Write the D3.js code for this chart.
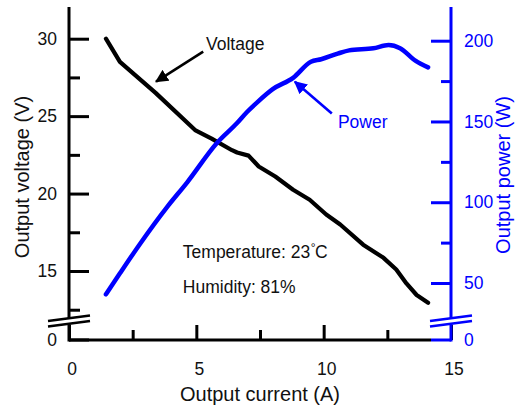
<!DOCTYPE html>
<html>
<head>
<meta charset="utf-8">
<script src="https://cdn.jsdelivr.net/npm/d3@7"></script>
<style>
  body { margin: 0; background: #fff; }
  svg { display: block; font-family: "Liberation Sans", Arial, sans-serif; }
</style>
</head>
<body>
<svg id="chart" width="516" height="407"></svg>
<script>
// values
const voltCurrent = [1.45, 2.0, 3.4, 4.95, 5.6, 6.4, 6.6, 7.05, 7.45, 8.1, 8.8, 9.45, 10.1, 10.65, 11.55, 12.35, 12.85, 13.25, 13.65, 14.1];
const voltage = [30.0, 28.5, 26.5, 24.1, 23.55, 22.8, 22.65, 22.45, 21.75, 21.1, 20.25, 19.6, 18.65, 18.0, 16.7, 15.85, 15.1, 14.2, 13.45, 12.95];

const powCurrent = [1.45, 2.0, 2.8, 3.85, 4.65, 5.8, 6.6, 7.0, 7.4, 8.0, 8.8, 9.5, 9.9, 10.55, 11.0, 11.95, 12.55, 13.0, 13.6, 14.1];
const power = [43, 56, 74.5, 97, 112.5, 136.5, 149, 156, 162, 170, 177, 187, 188.5, 192, 194, 195.3, 197.3, 195.3, 187.6, 183.5];

const xTicks = [0, 5, 10, 15];
const xMinor = [2.5, 7.5, 12.5];
const vTicks = [15, 20, 25, 30];
const vMinor = [12.5, 17.5, 22.5, 27.5];
const pTicks = [50, 100, 150, 200];
const pMinor = [75, 125, 175];

const BLUE = "#0000ff";

const svg = d3.select("#chart");
const m = { left: 69, right: 451, bottom: 340, top: 7 };

const x = d3.scaleLinear().domain([0, 15]).range([m.left, m.right]);
const yV = d3.scaleLinear().domain([15, 30]).range([271, 38.7]);
const yP = d3.scaleLinear().domain([50, 200]).range([283, 40.7]);

const tickFont = "17.5px";

// ---- curves
const voltLine = d3.line().x((d, i) => x(voltCurrent[i])).y((d) => yV(d));
const powLine = d3.line().x((d, i) => x(powCurrent[i])).y((d) => yP(d)).curve(d3.curveMonotoneX);

svg.append("path")
  .attr("d", voltLine(voltage))
  .attr("fill", "none")
  .attr("stroke", "#000")
  .attr("stroke-width", 4.2)
  .attr("stroke-linejoin", "round")
  .attr("stroke-linecap", "round");

svg.append("path")
  .attr("d", powLine(power))
  .attr("fill", "none")
  .attr("stroke", BLUE)
  .attr("stroke-width", 4.5)
  .attr("stroke-linejoin", "round")
  .attr("stroke-linecap", "round");

// ---- x axis
const xAxis = svg.append("g")
  .attr("transform", `translate(0,${m.bottom})`)
  .call(d3.axisBottom(x).tickValues(xTicks).tickSizeInner(-15).tickSizeOuter(0).tickPadding(23));
xAxis.select(".domain").remove();
xAxis.selectAll(".tick line").attr("stroke", "#000").attr("stroke-width", 3);
xAxis.selectAll(".tick text").attr("font-size", tickFont).attr("fill", "#111").attr("dx", 2.5);

const xAxisMinor = svg.append("g")
  .attr("transform", `translate(0,${m.bottom})`)
  .call(d3.axisBottom(x).tickValues(xMinor).tickSizeInner(-10).tickSizeOuter(0).tickFormat(""));
xAxisMinor.select(".domain").remove();
xAxisMinor.selectAll(".tick line").attr("stroke", "#000").attr("stroke-width", 3);

svg.append("line")
  .attr("x1", m.left).attr("x2", m.right - 20)
  .attr("y1", m.bottom).attr("y2", m.bottom)
  .attr("stroke", "#000").attr("stroke-width", 3);

// ---- left (voltage) axis
const vAxis = svg.append("g")
  .attr("transform", `translate(${m.left},0)`)
  .call(d3.axisLeft(yV).tickValues(vTicks).tickSizeInner(-20).tickSizeOuter(0).tickPadding(12));
vAxis.select(".domain").remove();
vAxis.selectAll(".tick line").attr("stroke", "#000").attr("stroke-width", 3);
vAxis.selectAll(".tick text").attr("font-size", tickFont).attr("fill", "#111");

const vAxisMinor = svg.append("g")
  .attr("transform", `translate(${m.left},0)`)
  .call(d3.axisLeft(yV).tickValues(vMinor).tickSizeInner(-11).tickSizeOuter(0).tickFormat(""));
vAxisMinor.select(".domain").remove();
vAxisMinor.selectAll(".tick line").attr("stroke", "#000").attr("stroke-width", 3);

svg.append("line")
  .attr("x1", m.left).attr("x2", m.left)
  .attr("y1", m.top).attr("y2", m.bottom + 1.5)
  .attr("stroke", "#000").attr("stroke-width", 3);
svg.append("line")
  .attr("x1", m.left).attr("x2", m.left + 20)
  .attr("y1", m.bottom).attr("y2", m.bottom)
  .attr("stroke", "#000").attr("stroke-width", 3);
svg.append("text")
  .attr("x", m.left - 12).attr("y", m.bottom)
  .attr("dy", "0.32em")
  .attr("text-anchor", "end")
  .attr("font-size", tickFont).attr("fill", "#111")
  .text("0");

// ---- right (power) axis
const pAxis = svg.append("g")
  .attr("transform", `translate(${m.right},0)`)
  .call(d3.axisRight(yP).tickValues(pTicks).tickSizeInner(-20).tickSizeOuter(0).tickPadding(13));
pAxis.select(".domain").remove();
pAxis.selectAll(".tick line").attr("stroke", BLUE).attr("stroke-width", 3);
pAxis.selectAll(".tick text").attr("font-size", tickFont).attr("fill", BLUE);

const pAxisMinor = svg.append("g")
  .attr("transform", `translate(${m.right},0)`)
  .call(d3.axisRight(yP).tickValues(pMinor).tickSizeInner(-10).tickSizeOuter(0).tickFormat(""));
pAxisMinor.select(".domain").remove();
pAxisMinor.selectAll(".tick line").attr("stroke", BLUE).attr("stroke-width", 3);

svg.append("line")
  .attr("x1", m.right).attr("x2", m.right)
  .attr("y1", m.top).attr("y2", m.bottom + 1.5)
  .attr("stroke", BLUE).attr("stroke-width", 3);
svg.append("line")
  .attr("x1", m.right - 20).attr("x2", m.right)
  .attr("y1", m.bottom).attr("y2", m.bottom)
  .attr("stroke", BLUE).attr("stroke-width", 3);
svg.append("text")
  .attr("x", m.right + 13).attr("y", m.bottom)
  .attr("dy", "0.32em")
  .attr("font-size", tickFont).attr("fill", BLUE)
  .text("0");

// ---- axis breaks (two slanted strokes with a white gap)
function axisBreak(cx, color) {
  const g = svg.append("g");
  g.append("polygon")
    .attr("points", `${cx - 21},321 ${cx + 21},315.5 ${cx + 21},321 ${cx - 21},326.5`)
    .attr("fill", "#fff");
  [0, 5.5].forEach((off) => {
    g.append("line")
      .attr("x1", cx - 21).attr("y1", 321 + off)
      .attr("x2", cx + 21).attr("y2", 315.5 + off)
      .attr("stroke", color).attr("stroke-width", 2.6);
  });
}
axisBreak(m.left, "#000");
axisBreak(m.right, BLUE);

// ---- axis titles
svg.append("text")
  .attr("x", 260).attr("y", 401)
  .attr("text-anchor", "middle")
  .attr("font-size", "20px").attr("fill", "#111")
  .text("Output current (A)");

svg.append("text")
  .attr("transform", "translate(29,177) rotate(-90)")
  .attr("text-anchor", "middle")
  .attr("font-size", "20px").attr("fill", "#111")
  .text("Output voltage (V)");

svg.append("text")
  .attr("transform", "translate(510,175) rotate(-90)")
  .attr("text-anchor", "middle")
  .attr("font-size", "20px").attr("fill", BLUE)
  .text("Output power (W)");

// ---- annotations
const defs = svg.append("defs");
[["headBlack", "#000"], ["headBlue", BLUE]].forEach(([id, c]) => {
  defs.append("marker")
    .attr("id", id)
    .attr("viewBox", "0 0 10 10")
    .attr("refX", 9).attr("refY", 5)
    .attr("markerWidth", 5).attr("markerHeight", 5)
    .attr("markerUnits", "strokeWidth")
    .attr("orient", "auto")
    .append("path")
    .attr("d", "M0,0 L10,5 L0,10 Z")
    .attr("fill", c);
});

svg.append("line")
  .attr("x1", x(5.27)).attr("y1", yV(29.16))
  .attr("x2", x(3.42)).attr("y2", yV(27.23))
  .attr("stroke", "#000").attr("stroke-width", 2.6)
  .attr("marker-end", "url(#headBlack)");
svg.append("text")
  .attr("x", x(5.38)).attr("y", yV(29.27))
  .attr("font-size", "17.5px").attr("fill", "#111")
  .text("Voltage");

svg.append("line")
  .attr("x1", x(10.32)).attr("y1", yP(155))
  .attr("x2", x(8.87)).attr("y2", yP(174.6))
  .attr("stroke", BLUE).attr("stroke-width", 2.6)
  .attr("marker-end", "url(#headBlue)");
svg.append("text")
  .attr("x", x(10.56)).attr("y", yP(145.7))
  .attr("font-size", "17.5px").attr("fill", BLUE)
  .text("Power");

const temp = svg.append("text")
  .attr("x", x(4.47)).attr("y", yV(15.83))
  .attr("font-size", "17.5px").attr("fill", "#111");
temp.append("tspan").text("Temperature: 23");
temp.append("tspan").attr("font-size", "12px").attr("dy", -6).attr("dx", 0.5).text("°");
temp.append("tspan").attr("dy", 6).attr("dx", -0.5).text("C");

svg.append("text")
  .attr("x", x(4.47)).attr("y", yV(13.57))
  .attr("font-size", "17.5px").attr("fill", "#111")
  .text("Humidity: 81%");
</script>
</body>
</html>
